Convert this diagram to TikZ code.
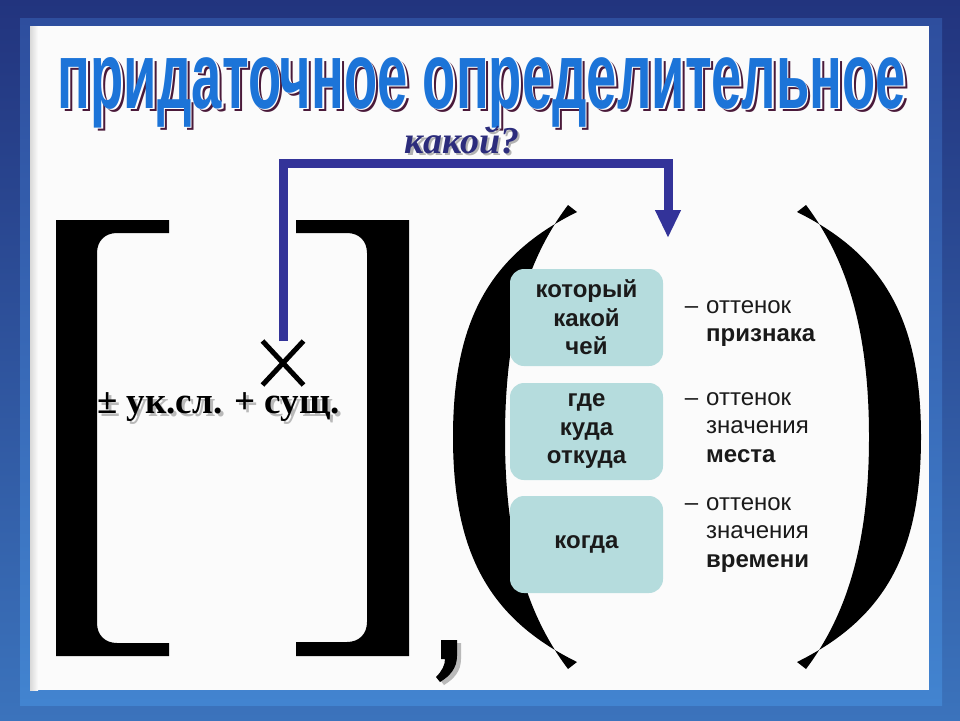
\documentclass[tikz,border=0pt]{standalone}
\usepackage{fontspec}
\setmainfont{Liberation Sans}
\newfontfamily\romanface{Liberation Serif}
\usepackage{graphicx}
\usepackage{xcolor}
\usetikzlibrary{arrows.meta, positioning, shapes.misc}
\definecolor{frametop}{HTML}{22347E}
\definecolor{framebottom}{HTML}{3B73BC}
\definecolor{rimtop}{HTML}{2E4E9E}
\definecolor{rimbottom}{HTML}{4284D0}
\definecolor{headblue}{HTML}{1C74D8}
\definecolor{headshade}{HTML}{4A1A3A}
\definecolor{linkblue}{HTML}{333399}
\definecolor{askblue}{HTML}{2C2C7C}
\definecolor{wordfill}{HTML}{B5DCDD}
\definecolor{ink}{HTML}{1A1A1A}
\newcommand\headtext{\resizebox{848pt}{51pt}{придаточное определительное}}
\tikzset{%
	headline/.style={
		anchor=base,
		inner sep=0pt,
		font=\bfseries
	},
	asktext/.style={
		anchor=base,
		inner sep=0pt,
		font=\romanface\bfseries\itshape\fontsize{38}{40}\selectfont
	},
	formula/.style={
		anchor=base west,
		inner sep=0pt,
		font=\romanface\bfseries\fontsize{37}{40}\selectfont
	},
	wordbox/.style={
		rectangle,
		rounded corners=14pt,
		fill=wordfill,
		minimum width=153pt,
		minimum height=97pt,
		align=center,
		text=ink,
		font=\bfseries\fontsize{24}{28.5}\selectfont
	},
	sense/.style={
		anchor=base west,
		inner sep=0pt,
		text width=140pt,
		align=left,
		text=ink,
		font=\fontsize{24}{28.5}\selectfont
	},
	link/.style={
		draw=linkblue,
		line width=9pt,
		-{Triangle[length=28pt, width=24pt]}
	},
	paren/.pic={
		\fill (577,212) .. controls (490,255) and (453,320) .. (453,437)
			.. controls (453,554) and (490,619) .. (577,662) -- (568,669)
			.. controls (525,612) and (505,539) .. (505,437)
			.. controls (505,335) and (525,262) .. (568,205) -- cycle;
	},
	comma/.pic={
		\fill (441,640) -- (457,640) -- (457,656) .. controls (457,668) and (450,676) .. (440,682)
			-- (436,677) .. controls (442,671) and (445,665) .. (445,659) -- (441,659) -- cycle;
	},
}
\begin{document}
\begin{tikzpicture}[x=1pt, y=-1pt]
	\useasboundingbox (0,0) rectangle (960,720);
	% frame
	\fill[top color=frametop, bottom color=framebottom] (0,0) rectangle (960,720);
	\fill[top color=rimtop, bottom color=rimbottom] (20,18) rectangle (942,705);
	\fill[white!97!gray] (30,26) rectangle (929,690);
	\fill[left color=gray!30, right color=white!97!gray] (30,26) rectangle (38,690);

	% title
	\node[headline, text=headshade] (headshadow) at (485.5,111.5) {\headtext};
	\node[headline, text=white] (headrim) at (483.5,109.5) {\headtext};
	\node[headline, text=headblue] (head) at (482,108) {\headtext};

	\node[asktext, text=gray!60] (askshadow) at (464.5,155.5) {какой?};
	\node[asktext, text=askblue] (ask) at (462,153) {какой?};

	% main clause
	\fill (56,220) -- (169,220) -- (169,233) -- (117,233) .. controls (105,233) and (97,241) .. (97,253)
		-- (97,623) .. controls (97,635) and (105,643) .. (117,643) -- (169,643) -- (169,656) -- (56,656) -- cycle;
	\fill (296,220) -- (409,220) -- (409,656) -- (296,656) -- (296,642) -- (347,642)
		.. controls (359,642) and (367,634) .. (367,622) -- (367,253)
		.. controls (367,241) and (359,233) .. (347,233) -- (296,233) -- cycle;

	\node[formula, text=gray!55] (wordshadow) at (100,416) {± ук.сл. + сущ.};
	\node[formula] (word) at (97,413) {± ук.сл. + сущ.};
	\node[cross out, draw, line width=5pt, inner sep=0pt, minimum width=36pt, minimum height=39pt] (cross) at (283,363) {};

	\pic[gray!55] (commashadow) at (4,3) {comma};
	\pic (comma) at (0,0) {comma};

	% subordinate clause
	\pic (openparen) at (0,0) {paren};
	\pic[xscale=-1] (closeparen) at (1374,0) {paren};

	\node[wordbox] (which) at (586.5,317.5) {который\\какой\\чей};
	\node[wordbox] (where) at (586.5,431.5) {где\\куда\\откуда};
	\node[wordbox] (when) at (586.5,544.5) {когда};

	\node[sense] (which sense) at (706,313) {\llap{– }оттенок\\\textbf{признака}};
	\node[sense] (where sense) at (706,405) {\llap{– }оттенок\\значения\\\textbf{места}};
	\node[sense] (when sense) at (706,510) {\llap{– }оттенок\\значения\\\textbf{времени}};

	% question arrow
	\coordinate (bend) at (668,163);
	\coordinate (slot) at (668,238);
	\draw[link] (cross.north) |- (bend) -- (slot);
\end{tikzpicture}
\end{document}
